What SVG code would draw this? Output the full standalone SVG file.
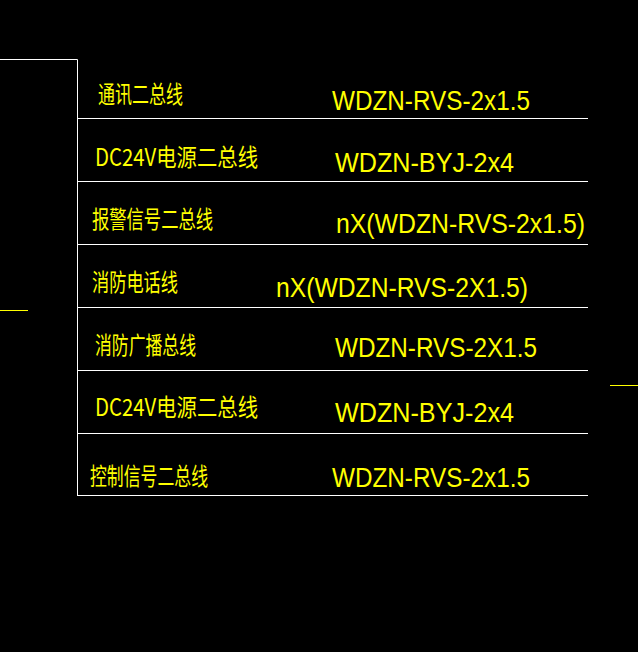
<svg xmlns="http://www.w3.org/2000/svg" width="638" height="652" viewBox="0 0 638 652">
<style>
.l{stroke:#fff;stroke-width:1;fill:none}
.y{stroke:#ff0;stroke-width:1}
.t{fill:#ff0;font-family:"Noto Sans CJK SC","Liberation Sans",sans-serif;font-size:24px}
.e{fill:#ff0;font-family:"Liberation Sans",sans-serif;font-size:27px}
</style>
<rect width="638" height="652" fill="#000"/>
<g id="connectors">
<path class="l" d="M0 59.5H77.5V495.5M77 118.5H588M77 181.5H588M77 244.5H588M77 307.5H588M77 370.5H588M77 433.5H588M77 495.5H588"/>
<line class="y" x1="0" y1="310.5" x2="28" y2="310.5"/>
<line class="y" x1="610" y1="385.5" x2="638" y2="385.5"/>
</g>
<g id="row1"><text class="t" x="98" y="103" textLength="85" lengthAdjust="spacingAndGlyphs">通讯二总线</text><text class="e" x="332" y="110" textLength="198" lengthAdjust="spacingAndGlyphs">WDZN-RVS-2x1.5</text></g>
<g id="row2"><text class="t" x="95" y="166" textLength="163" lengthAdjust="spacingAndGlyphs">DC24V电源二总线</text><text class="e" x="335" y="172" textLength="179" lengthAdjust="spacingAndGlyphs">WDZN-BYJ-2x4</text></g>
<g id="row3"><text class="t" x="92" y="228" textLength="121" lengthAdjust="spacingAndGlyphs">报警信号二总线</text><text class="e" x="336" y="233" textLength="249" lengthAdjust="spacingAndGlyphs">nX(WDZN-RVS-2x1.5)</text></g>
<g id="row4"><text class="t" x="92" y="291" textLength="86" lengthAdjust="spacingAndGlyphs">消防电话线</text><text class="e" x="276" y="297" textLength="252" lengthAdjust="spacingAndGlyphs">nX(WDZN-RVS-2X1.5)</text></g>
<g id="row5"><text class="t" x="95" y="354" textLength="101" lengthAdjust="spacingAndGlyphs">消防广播总线</text><text class="e" x="335" y="357" textLength="202" lengthAdjust="spacingAndGlyphs">WDZN-RVS-2X1.5</text></g>
<g id="row6"><text class="t" x="95" y="416" textLength="163" lengthAdjust="spacingAndGlyphs">DC24V电源二总线</text><text class="e" x="335" y="422" textLength="179" lengthAdjust="spacingAndGlyphs">WDZN-BYJ-2x4</text></g>
<g id="row7"><text class="t" x="90" y="485" textLength="118" lengthAdjust="spacingAndGlyphs">控制信号二总线</text><text class="e" x="332" y="487" textLength="198" lengthAdjust="spacingAndGlyphs">WDZN-RVS-2x1.5</text></g>
</svg>
